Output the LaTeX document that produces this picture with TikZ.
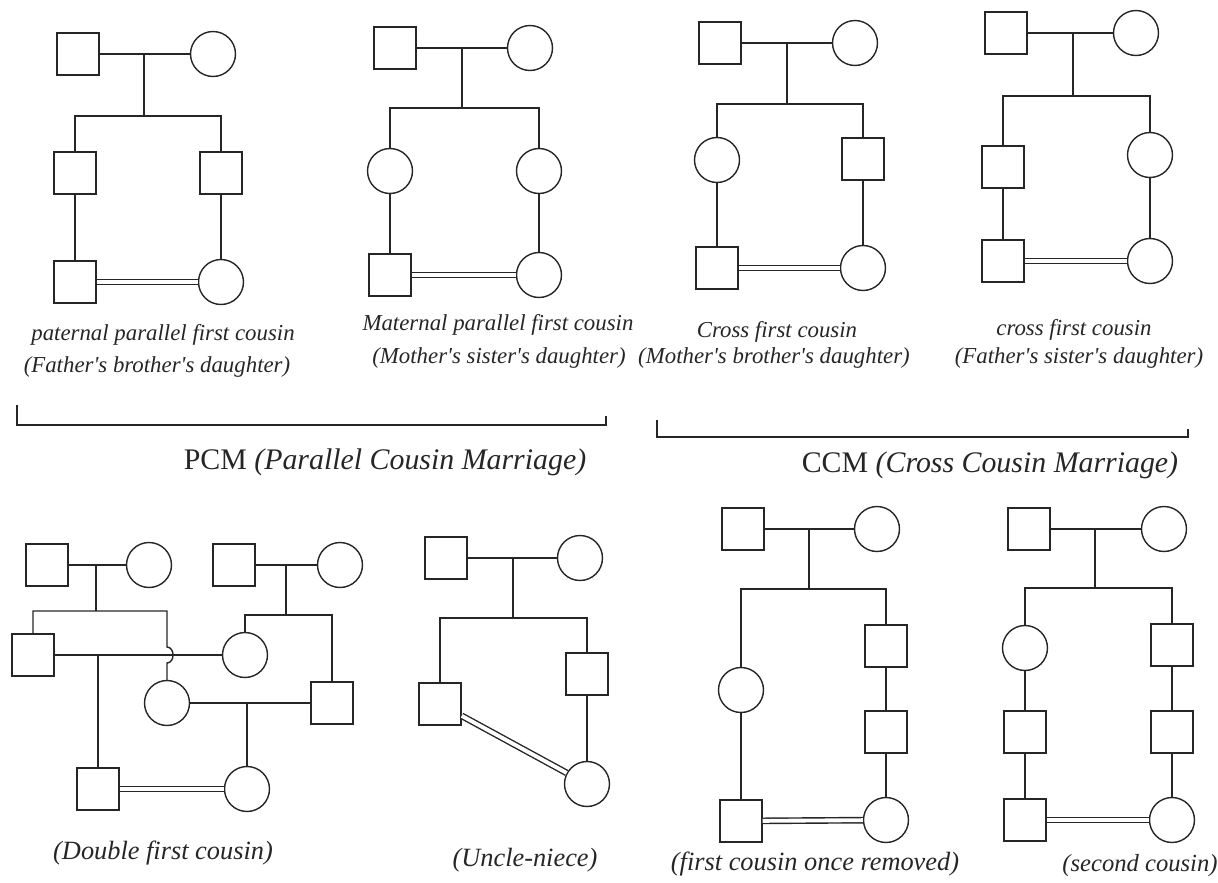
\documentclass[tikz,border=0pt]{standalone}
\usepackage{fontspec}
\setmainfont{Liberation Serif}
\usetikzlibrary{arrows}

\begin{document}
\begin{tikzpicture}[x=0.02cm, y=-0.02cm, line width=0.8pt, color=black!85]
	\tikzstyle{male} = [draw, rectangle, minimum size=0.84cm, inner sep=0pt]
	\tikzstyle{female} = [draw, circle, minimum size=0.9cm, inner sep=0pt]
	\tikzstyle{cons} = [double, double distance=2.2pt]
	\tikzstyle{note} = [font=\fontsize{13}{15}\selectfont\itshape, inner sep=0pt]
	\tikzstyle{notebig} = [font=\fontsize{15}{17}\selectfont\itshape, inner sep=0pt]
	\tikzstyle{group} = [font=\fontsize{17}{19}\selectfont, inner sep=0pt]

	\useasboundingbox (0,0) rectangle (1218,883);

	\path
	node[male] (fa1) at (78,54) {}
	node[female] (mo1) at (213,54) {}
	node[male] (ca1) at (75,173) {}
	node[male] (cb1) at (221,173) {}
	node[male] (sa1) at (75,282) {}
	node[female] (sb1) at (221,282) {}
	coordinate (m1) at (144,54)
	coordinate (j1) at (144,116)
	node[note] (t1a) at (163,335) {paternal parallel first cousin}
	node[note] (t1b) at (157,367) {(Father\textquotesingle s brother\textquotesingle s daughter)}

	(fa1) edge (mo1)
	(m1) edge (j1)
	(ca1) edge (sa1)
	(cb1) edge (sb1)
	(sa1) edge[cons] (sb1)
	;
	\draw (ca1) |- (j1) -| (cb1);

	\path
	node[male] (fa2) at (395,48) {}
	node[female] (mo2) at (530,48) {}
	node[female] (ca2) at (390,171) {}
	node[female] (cb2) at (539,171) {}
	node[male] (sa2) at (390,275) {}
	node[female] (sb2) at (539,275) {}
	coordinate (m2) at (462,48)
	coordinate (j2) at (462,108)
	node[note] (t2a) at (498,325) {Maternal parallel first cousin}
	node[note] (t2b) at (499,358) {(Mother\textquotesingle s sister\textquotesingle s daughter)}

	(fa2) edge (mo2)
	(m2) edge (j2)
	(ca2) edge (sa2)
	(cb2) edge (sb2)
	(sa2) edge[cons] (sb2)
	;
	\draw (ca2) |- (j2) -| (cb2);

	\path
	node[male] (fa3) at (720,43) {}
	node[female] (mo3) at (855,43) {}
	node[female] (ca3) at (717,160) {}
	node[male] (cb3) at (863,159) {}
	node[male] (sa3) at (717,268) {}
	node[female] (sb3) at (863,268) {}
	coordinate (m3) at (787,43)
	coordinate (j3) at (787,104)
	node[note] (t3a) at (777,332) {Cross first cousin}
	node[note] (t3b) at (774,358) {(Mother\textquotesingle s brother\textquotesingle s daughter)}

	(fa3) edge (mo3)
	(m3) edge (j3)
	(ca3) edge (sa3)
	(cb3) edge (sb3)
	(sa3) edge[cons] (sb3)
	;
	\draw (ca3) |- (j3) -| (cb3);

	\path
	node[male] (fa4) at (1006,33) {}
	node[female] (mo4) at (1136,33) {}
	node[male] (ca4) at (1003,167) {}
	node[female] (cb4) at (1150,155) {}
	node[male] (sa4) at (1003,261) {}
	node[female] (sb4) at (1150,261) {}
	coordinate (m4) at (1073,33)
	coordinate (j4) at (1073,96)
	node[note] (t4a) at (1074,330) {cross first cousin}
	node[note] (t4b) at (1079,358) {(Father\textquotesingle s sister\textquotesingle s daughter)}

	(fa4) edge (mo4)
	(m4) edge (j4)
	(ca4) edge (sa4)
	(cb4) edge (sb4)
	(sa4) edge[cons] (sb4)
	;
	\draw (ca4) |- (j4) -| (cb4);

	\coordinate (pcmL) at (17,405);
	\coordinate (pcmR) at (606,416);
	\draw (pcmL) -- ++(0,20) -| (pcmR);
	\node[group] (pcm) at (385,462) {PCM \textit{(Parallel Cousin Marriage)}};

	\coordinate (ccmL) at (657,420);
	\coordinate (ccmR) at (1188,429);
	\draw (ccmL) -- ++(0,17) -| (ccmR);
	\node[group] (ccm) at (990,465) {CCM \textit{(Cross Cousin Marriage)}};

	\path
	node[male] (fa5) at (47,565) {}
	node[female] (mo5) at (149,565) {}
	node[male] (fb5) at (234,565) {}
	node[female] (mb5) at (340,565) {}
	node[male] (ua5) at (33,655) {}
	node[female] (wa5) at (245,655) {}
	node[female] (wb5) at (167,703) {}
	node[male] (ub5) at (332,703) {}
	node[male] (sa5) at (98,789) {}
	node[female] (sb5) at (247,789) {}
	coordinate (m5) at (96,565)
	coordinate (j5) at (96,611)
	coordinate (n5) at (286,565)
	coordinate (k5) at (286,615)
	coordinate (h5a) at (167,647)
	coordinate (h5b) at (167,663)
	coordinate (p5) at (98,655)
	coordinate (q5) at (247,703)
	node[notebig] (t5) at (163,853) {(Double first cousin)}

	(fa5) edge (mo5)
	(fb5) edge (mb5)
	(m5) edge (j5)
	(n5) edge (k5)
	(ua5) edge (wa5)
	(wb5) edge (ub5)
	(p5) edge (sa5)
	(q5) edge (sb5)
	(sa5) edge[cons] (sb5)
	;
	\draw (ua5) |- (j5) -| (h5a) .. controls +(8,0) and +(8,0) .. (h5b) -- (wb5);
	\draw (wa5) |- (k5) -| (ub5);

	\path
	node[male] (fa6) at (446,558) {}
	node[female] (mo6) at (580,558) {}
	node[male] (ua6) at (440,704) {}
	node[male] (ba6) at (587,674) {}
	node[female] (sb6) at (587,784) {}
	coordinate (m6) at (513,558)
	coordinate (j6) at (513,618)
	node[notebig] (t6) at (525,860) {(Uncle-niece)}

	(fa6) edge (mo6)
	(m6) edge (j6)
	(ba6) edge (sb6)
	(ua6) edge[cons] (sb6)
	;
	\draw (ua6) |- (j6) -| (ba6);

	\path
	node[male] (fa7) at (743,529) {}
	node[female] (mo7) at (877,529) {}
	node[female] (ca7) at (741,690) {}
	node[male] (cb7) at (886,646) {}
	node[male] (cc7) at (886,732) {}
	node[male] (sa7) at (741,821) {}
	node[female] (sb7) at (886,820) {}
	coordinate (m7) at (809,529)
	coordinate (j7) at (809,589)
	node[notebig] (t7) at (815,864) {(first cousin once removed)}

	(fa7) edge (mo7)
	(m7) edge (j7)
	(cb7) edge (cc7)
	(cc7) edge (sb7)
	(ca7) edge (sa7)
	(sa7) edge[cons] (sb7)
	;
	\draw (ca7) |- (j7) -| (cb7);

	\path
	node[male] (fa8) at (1029,529) {}
	node[female] (mo8) at (1164,529) {}
	node[female] (ca8) at (1025,648) {}
	node[male] (cb8) at (1172,645) {}
	node[male] (cc8) at (1025,732) {}
	node[male] (cd8) at (1172,732) {}
	node[male] (sa8) at (1025,820) {}
	node[female] (sb8) at (1172,820) {}
	coordinate (m8) at (1095,529)
	coordinate (j8) at (1095,588)
	node[font=\fontsize{14}{16}\selectfont\itshape, inner sep=0pt] (t8) at (1140,866) {(second cousin)}

	(fa8) edge (mo8)
	(m8) edge (j8)
	(ca8) edge (cc8)
	(cc8) edge (sa8)
	(cb8) edge (cd8)
	(cd8) edge (sb8)
	(sa8) edge[cons] (sb8)
	;
	\draw (ca8) |- (j8) -| (cb8);
\end{tikzpicture}
\end{document}
